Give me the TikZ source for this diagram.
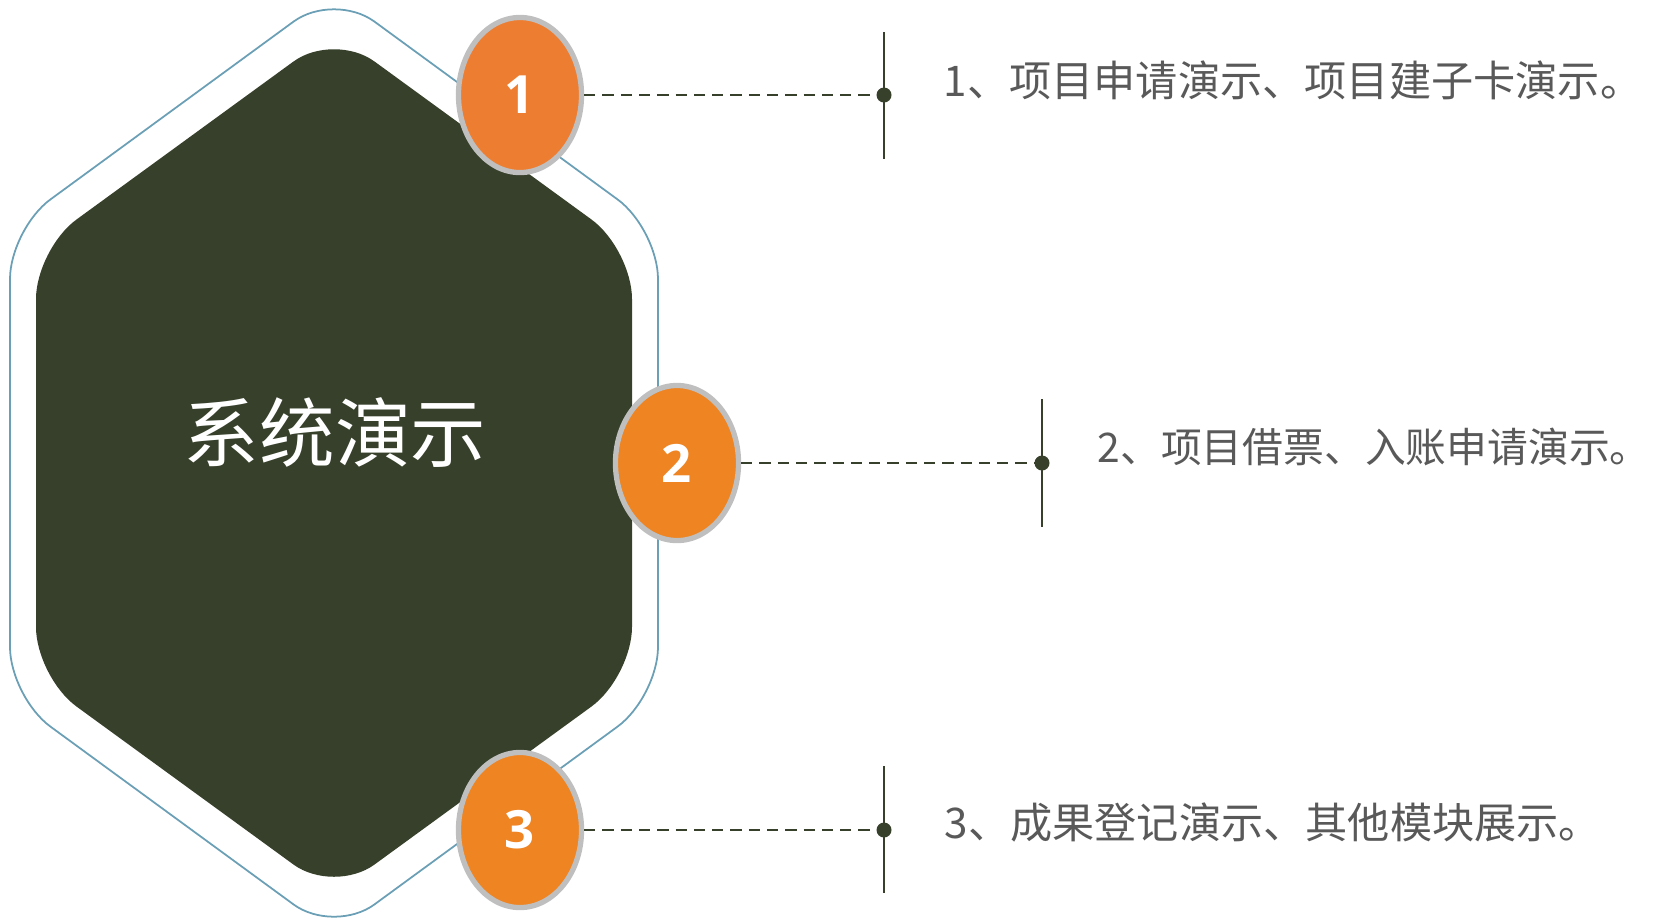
\documentclass[tikz,border=0pt]{standalone}
\usepackage{fontspec}
\setmainfont{Noto Sans CJK SC}
\newfontfamily\numfont{Open Sans}
\usepackage{tikz}
\usetikzlibrary{calc,shapes.geometric}
\definecolor{hexgreen}{HTML}{36402A}
\definecolor{hexblue}{HTML}{6A9FB5}
\definecolor{numorange}{HTML}{ED7D31}
\definecolor{numorangeb}{HTML}{EE8422}
\definecolor{itemgray}{HTML}{595959}
\tikzset{
	numcirc/.style={ellipse, draw=black!25, line width=1.5pt, inner sep=0pt,
		minimum width=1.23cm, minimum height=1.55cm, text=white,
		font=\numfont\bfseries\fontsize{15}{15}\selectfont},
	conn/.style={hexgreen, line width=0.8pt, dash pattern=on 3.2pt off 2pt},
	tickline/.style={hexgreen, line width=0.65pt},
	dotmark/.style={circle, fill=hexgreen, inner sep=0pt, minimum size=0.15cm},
	itemtext/.style={anchor=west, inner sep=0pt, text=itemgray, font=\fontsize{12}{12}\selectfont}
}

\begin{document}
\begin{tikzpicture}[x=0.01cm, y=-0.01cm]
		%%%%% START %%%%%
		\useasboundingbox (0, 0) rectangle (1657, 923);
		
		% outer outline and filled hexagon
		\draw[hexblue, line width=0.5pt, rounded corners=5mm] (10, 463) -- (10, 229) -- (334, -8) -- (658, 229) -- (658, 697) -- (334, 934) -- (10, 697) -- cycle;
		\fill[hexgreen, rounded corners=5mm] (36, 463) -- (36, 249) -- (334, 32) -- (632, 249) -- (632, 677) -- (334, 894) -- (36, 677) -- cycle;
		
		\node[text=white, inner sep=0pt, font=\fontsize{21.5}{21.5}\selectfont] (title) at (335, 433) {系统演示};
		
		% number circles
		\node[numcirc, fill=numorange] (num1) at (520, 95) {1};
		\node[numcirc, fill=numorangeb] (num2) at (677, 463) {2};
		\node[numcirc, fill=numorangeb] (num3) at (520, 830) {3};
		
		% ticks with dots
		\node[dotmark] (dot1) at (884, 95) {};
		\node[dotmark] (dot2) at (1042, 463) {};
		\node[dotmark] (dot3) at (884, 830) {};
		
		\draw[tickline] ($(dot1)+(0, -63)$) -- ($(dot1)+(0, 64)$);
		\draw[tickline] ($(dot2)+(0, -64)$) -- ($(dot2)+(0, 64)$);
		\draw[tickline] ($(dot3)+(0, -64)$) -- ($(dot3)+(0, 63)$);
		
		\draw[conn] (num1.east) -- (dot1.center);
		\draw[conn] (num2.east) -- (dot2.center);
		\draw[conn] (num3.east) -- (dot3.center);
		
		% item texts
		\node[itemtext] (item1) at (943, 80) {1、项目申请演示、项目建子卡演示。};
		\node[itemtext, font=\fontsize{11.6}{11.6}\selectfont] (item2) at (1097, 447) {2、项目借票、入账申请演示。};
		\node[itemtext] (item3) at (944, 822) {3、成果登记演示、其他模块展示。};
		
		%%%%% END %%%%%
	\end{tikzpicture}
\end{document}
